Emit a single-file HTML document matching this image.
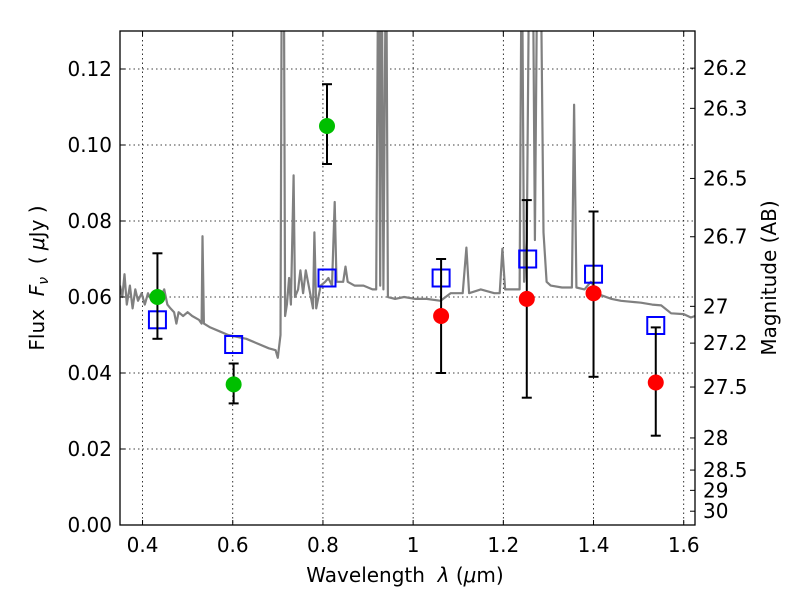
<!DOCTYPE html>
<html><head><meta charset="utf-8"><style>
body{margin:0;background:#fff}
svg{font-family:"DejaVu Sans","Liberation Sans",sans-serif}
text{white-space:pre}
</style></head><body>
<svg id="chart" width="800" height="600" viewBox="0 0 800 600">
<defs><clipPath id="plotclip"><rect x="120" y="31" width="575" height="494"/></clipPath></defs>
<rect x="0" y="0" width="800" height="600" fill="#fff"/>
<g id="grid"></g>
<g id="spec" clip-path="url(#plotclip)"></g>
<g id="marks" clip-path="url(#plotclip)"></g>
<rect x="120" y="31" width="575" height="494" fill="none" stroke="#000" stroke-width="1.3"/>
<g id="axes"></g>
<text x="405" y="582" text-anchor="middle" font-size="20">Wavelength  <tspan font-style="italic">λ</tspan> (<tspan font-style="italic">μ</tspan>m)</text>
<text transform="translate(44,278) rotate(-90)" text-anchor="middle" font-size="20">Flux  <tspan font-style="italic">F</tspan><tspan font-style="italic" font-size="14" dy="4">ν</tspan><tspan dy="-4">  ( </tspan><tspan font-style="italic">μ</tspan>Jy )</text>
<text transform="translate(776,278) rotate(-90)" text-anchor="middle" font-size="20">Magnitude (AB)</text>
</svg>
<script>
const xTicks=[0.4,0.6,0.8,1.0,1.2,1.4,1.6];
const xTickLabels=["0.4","0.6","0.8","1","1.2","1.4","1.6"];
const yTicks=[0,0.02,0.04,0.06,0.08,0.10,0.12];
const yTickLabels=["0.00","0.02","0.04","0.06","0.08","0.10","0.12"];
const magTicks=[26.2,26.3,26.5,26.7,27,27.2,27.5,28,28.5,29,30];
const magLabels=["26.2","26.3","26.5","26.7","27","27.2","27.5","28","28.5","29","30"];
const specWave=[0.350,0.355,0.360,0.365,0.372,0.378,0.384,0.390,0.398,0.405,0.412,0.420,0.430,0.440,0.448,0.455,0.462,0.470,0.475,0.480,0.490,0.500,0.510,0.525,0.531,0.533,0.536,0.550,0.570,0.590,0.610,0.630,0.650,0.680,0.695,0.700,0.706,0.709,0.713,0.716,0.720,0.725,0.729,0.735,0.738,0.745,0.750,0.756,0.762,0.770,0.778,0.781,0.785,0.795,0.805,0.812,0.820,0.826,0.830,0.845,0.850,0.855,0.870,0.890,0.910,0.918,0.923,0.927,0.930,0.934,0.940,0.944,0.960,0.980,1.005,1.030,1.061,1.083,1.110,1.118,1.124,1.150,1.180,1.192,1.198,1.204,1.230,1.236,1.241,1.246,1.252,1.258,1.265,1.270,1.276,1.282,1.289,1.296,1.305,1.330,1.352,1.357,1.362,1.380,1.394,1.416,1.440,1.461,1.505,1.530,1.550,1.572,1.600,1.616,1.625];
const specFlux=[0.063,0.060,0.066,0.058,0.063,0.057,0.062,0.059,0.061,0.058,0.061,0.059,0.061,0.060,0.062,0.058,0.057,0.056,0.053,0.056,0.055,0.056,0.055,0.054,0.053,0.076,0.053,0.052,0.051,0.050,0.0495,0.049,0.048,0.0465,0.046,0.044,0.050,0.16,0.16,0.055,0.058,0.065,0.058,0.092,0.060,0.062,0.067,0.061,0.067,0.062,0.057,0.077,0.057,0.063,0.064,0.065,0.063,0.085,0.064,0.064,0.068,0.064,0.063,0.063,0.062,0.062,0.16,0.063,0.16,0.062,0.16,0.060,0.0595,0.060,0.0595,0.0595,0.059,0.061,0.061,0.073,0.061,0.062,0.061,0.061,0.0727,0.062,0.062,0.062,0.16,0.064,0.075,0.16,0.16,0.075,0.16,0.16,0.077,0.064,0.063,0.0625,0.0625,0.1106,0.0625,0.062,0.064,0.0605,0.0595,0.059,0.0585,0.058,0.0578,0.0557,0.0555,0.0546,0.055];
const greenWave=[0.433,0.602,0.809];
const greenFlux=[0.060,0.037,0.105];
const greenLo=[0.049,0.032,0.095];
const greenHi=[0.0715,0.0425,0.116];
const redWave=[1.062,1.252,1.40,1.538];
const redFlux=[0.055,0.0595,0.061,0.0375];
const redLo=[0.040,0.0335,0.039,0.0235];
const redHi=[0.070,0.0855,0.0825,0.052];
const modelWave=[0.433,0.602,0.809,1.062,1.254,1.40,1.538];
const modelFlux=[0.054,0.0475,0.065,0.065,0.070,0.066,0.0525];

const NS="http://www.w3.org/2000/svg";
const L=120,R=695,T=31,B=525,X0=0.35,X1=1.625,Y0=0,Y1=0.13;
const sx=v=>L+(v-X0)/(X1-X0)*(R-L);
const sy=v=>B-(v-Y0)/(Y1-Y0)*(B-T);
const magToFlux=m=>Math.pow(10,(23.9-m)/2.5);
function mk(tag,attrs,parent){const e=document.createElementNS(NS,tag);for(const k in attrs)e.setAttribute(k,attrs[k]);parent.appendChild(e);return e;}
const grid=document.getElementById('grid'),axes=document.getElementById('axes'),spec=document.getElementById('spec'),marks=document.getElementById('marks');
xTicks.forEach((v,i)=>{
  const x=sx(v);
  const g=mk('line',{x1:x,x2:x,y1:T,y2:B,stroke:'#000','stroke-width':0.8,'stroke-dasharray':'1.5,3'},grid);
  
  
  mk('line',{x1:x,x2:x,y1:B,y2:B-5,stroke:'#000'},axes);
  mk('line',{x1:x,x2:x,y1:T,y2:T+5,stroke:'#000'},axes);
  const t=mk('text',{x:x,y:B+27,'text-anchor':'middle','font-size':20},axes);
  t.textContent=xTickLabels[i];
  
  
});
yTicks.forEach((v,i)=>{
  const y=sy(v);
  const g=mk('line',{x1:L,x2:R,y1:y,y2:y,stroke:'#000','stroke-width':0.8,'stroke-dasharray':'1.5,3'},grid);
  
  
  mk('line',{x1:L,x2:L+5,y1:y,y2:y,stroke:'#000'},axes);
  const t=mk('text',{x:L-8,y:y+7,'text-anchor':'end','font-size':20},axes);
  t.textContent=yTickLabels[i];
  
  
});
magTicks.forEach((m,i)=>{
  const y=sy(magToFlux(m));
  mk('line',{x1:R,x2:R-5,y1:y,y2:y,stroke:'#000'},axes);
  const t=mk('text',{x:R+8,y:y+7,'text-anchor':'start','font-size':20},axes);
  t.textContent=magLabels[i];
  
  
});
let d='';
specWave.forEach((w,i)=>{d+=(i?'L':'M')+sx(w).toFixed(1)+','+sy(specFlux[i]).toFixed(1);});
const p=mk('path',{d:d,fill:'none',stroke:'#808080','stroke-width':2.2,'stroke-linejoin':'round'},spec);


function errbar(w,lo,hi){
  const x=sx(w);
  mk('line',{x1:x,x2:x,y1:sy(lo),y2:sy(hi),stroke:'#000','stroke-width':2},marks);
  mk('line',{x1:x-5,x2:x+5,y1:sy(lo),y2:sy(lo),stroke:'#000','stroke-width':2},marks);
  mk('line',{x1:x-5,x2:x+5,y1:sy(hi),y2:sy(hi),stroke:'#000','stroke-width':2},marks);
}
modelWave.forEach((w,i)=>{
  const s=mk('rect',{x:sx(w)-8.5,y:sy(modelFlux[i])-8.5,width:17,height:17,fill:'none',stroke:'#0000ff','stroke-width':2},marks);
  
  
});
greenWave.forEach((w,i)=>{
  errbar(w,greenLo[i],greenHi[i]);
  const c=mk('circle',{cx:sx(w),cy:sy(greenFlux[i]),r:8,fill:'#00bf00'},marks);
  
  
});
redWave.forEach((w,i)=>{
  errbar(w,redLo[i],redHi[i]);
  const c=mk('circle',{cx:sx(w),cy:sy(redFlux[i]),r:8,fill:'#ff0000'},marks);
  
  
});
</script>
</body></html>
